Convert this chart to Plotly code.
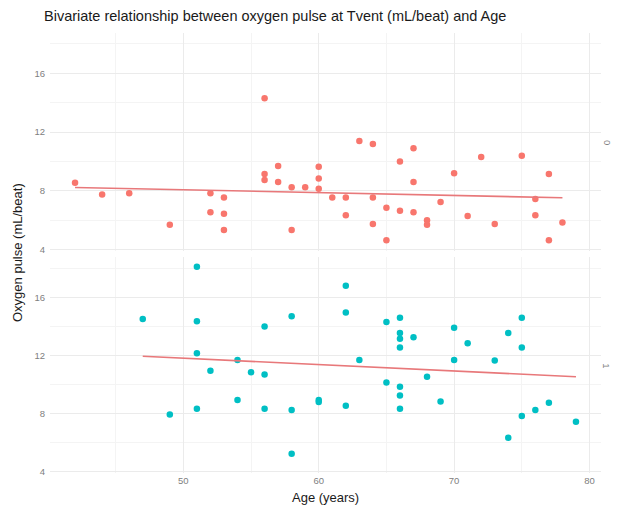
import numpy as np
import plotly.graph_objects as go

# Group 0 (top panel): age in years and oxygen pulse at Tvent (mL/beat)
age_0 = [42, 44, 46, 49, 52, 52, 53, 53, 53, 56, 56, 56, 57, 57, 58, 58, 59,
         60, 60, 60, 61, 62, 62, 63, 64, 64, 64, 65, 65, 66, 66, 67, 67, 67,
         68, 68, 69, 70, 71, 72, 73, 75, 76, 76, 77, 77, 78]
pulse_0 = [8.55, 7.75, 7.85, 5.7, 7.85, 6.55, 7.55, 6.45, 5.35, 14.3, 9.15,
           8.75, 9.7, 8.6, 8.25, 5.35, 8.25, 9.65, 8.85, 8.15, 7.55, 7.55,
           6.35, 11.4, 11.2, 7.55, 5.75, 6.85, 4.65, 10.0, 6.65, 10.9, 8.6,
           6.55, 6.0, 5.7, 7.25, 9.2, 6.3, 10.3, 5.75, 10.4, 7.45, 6.35, 9.15,
           4.65, 5.85]

# Group 1 (bottom panel)
age_1 = [47, 49, 51, 51, 51, 51, 52, 54, 54, 55, 56, 56, 56, 58, 58, 58, 60,
         60, 62, 62, 62, 63, 65, 65, 66, 66, 66, 66, 66, 66, 66, 67, 68, 69,
         70, 70, 71, 73, 74, 74, 75, 75, 75, 76, 77, 79]
pulse_1 = [14.5, 7.95, 18.1, 14.35, 12.15, 8.35, 10.95, 11.7, 8.95, 10.85,
           14.0, 10.7, 8.35, 14.7, 8.25, 5.25, 8.95, 8.8, 16.8, 14.95, 8.55,
           11.7, 14.3, 10.15, 14.6, 13.55, 13.15, 12.55, 9.85, 9.25, 8.35,
           13.25, 10.55, 8.85, 13.9, 11.7, 12.85, 11.65, 13.55, 6.35, 14.6,
           12.55, 7.85, 8.25, 8.75, 7.45]

group_labels = ["0", "1"]
x_ticks = [50, 60, 70, 80]
y_ticks = [4, 8, 12, 16]

POINT_COLORS = ["#F8766D", "#00BFC4"]
FIT_COLOR = "#E8787A"
GRID_MAJOR = "#EBEBEB"
GRID_MINOR = "#F4F4F4"
TICK_FONT = dict(family="Liberation Sans, Arial, sans-serif", size=9.5, color="#808080")

fig = go.Figure()

panels = [(age_0, pulse_0, "x", "y"), (age_1, pulse_1, "x2", "y2")]
for (ages, vals, xa, ya), color in zip(panels, POINT_COLORS):
    a = np.array(ages, dtype=float)
    v = np.array(vals, dtype=float)
    fig.add_trace(go.Scatter(
        x=a, y=v, mode="markers", xaxis=xa, yaxis=ya,
        marker=dict(size=6.5, color=color, line=dict(width=0)),
        showlegend=False, hoverinfo="x+y",
    ))
    # least-squares line over the group's age range
    slope, intercept = np.polyfit(a, v, 1)
    xs = np.array([a.min(), a.max()])
    fig.add_trace(go.Scatter(
        x=xs, y=slope * xs + intercept, mode="lines", xaxis=xa, yaxis=ya,
        line=dict(color=FIT_COLOR, width=1.6),
        showlegend=False, hoverinfo="skip",
    ))

x_range = [40.15, 80.85]
y_range = [3.93, 18.74]

common_x = dict(
    range=x_range, tickvals=x_ticks, showgrid=True, gridcolor=GRID_MAJOR,
    gridwidth=1, zeroline=False, showline=False, ticks="",
    minor=dict(dtick=5, tick0=0, showgrid=True, gridcolor=GRID_MINOR, gridwidth=0.6),
    tickfont=TICK_FONT,
)
common_y = dict(
    range=y_range, tickvals=y_ticks, showgrid=True, gridcolor=GRID_MAJOR,
    gridwidth=1, zeroline=False, showline=False, ticks="",
    minor=dict(dtick=2, tick0=0, showgrid=True, gridcolor=GRID_MINOR, gridwidth=0.6),
    tickfont=TICK_FONT, ticklabelstandoff=4,
)

fig.update_layout(
    width=617, height=509,
    margin=dict(l=50, r=16, t=33, b=36),
    paper_bgcolor="white", plot_bgcolor="white",
    xaxis=dict(**common_x, domain=[0, 1], anchor="y", matches="x2", showticklabels=False),
    yaxis=dict(**common_y, domain=[0.505, 1], anchor="x"),
    xaxis2=dict(**common_x, domain=[0, 1], anchor="y2"),
    yaxis2=dict(**common_y, domain=[0, 0.49], anchor="x2"),
    font=dict(family="Liberation Sans, Arial, sans-serif", color="#1A1A1A"),
)

annotations = [
    dict(text="Bivariate relationship between oxygen pulse at Tvent (mL/beat) and Age",
         xref="paper", yref="paper", x=-0.0145, y=1, xanchor="left", yanchor="bottom",
         yshift=7, showarrow=False,
         font=dict(size=14.5, color="#1A1A1A")),
    dict(text="Age (years)", xref="paper", yref="paper", x=0.5, y=0,
         xanchor="center", yanchor="top", yshift=-15, showarrow=False,
         font=dict(size=13, color="#1A1A1A")),
    dict(text="Oxygen pulse (mL/beat)", xref="paper", yref="paper", x=0, y=0.5,
         xanchor="center", yanchor="middle", xshift=-33, textangle=-90, showarrow=False,
         font=dict(size=13, color="#1A1A1A")),
]
for label, (lo, hi) in zip(group_labels, [(0.505, 1), (0, 0.49)]):
    annotations.append(dict(
        text=label, xref="paper", yref="paper", x=1, y=(lo + hi) / 2,
        xanchor="center", yanchor="middle", xshift=6, textangle=90, showarrow=False,
        font=dict(size=9.5, color="#7F7F7F"),
    ))
fig.update_layout(annotations=annotations)

fig.write_html("out.html")
